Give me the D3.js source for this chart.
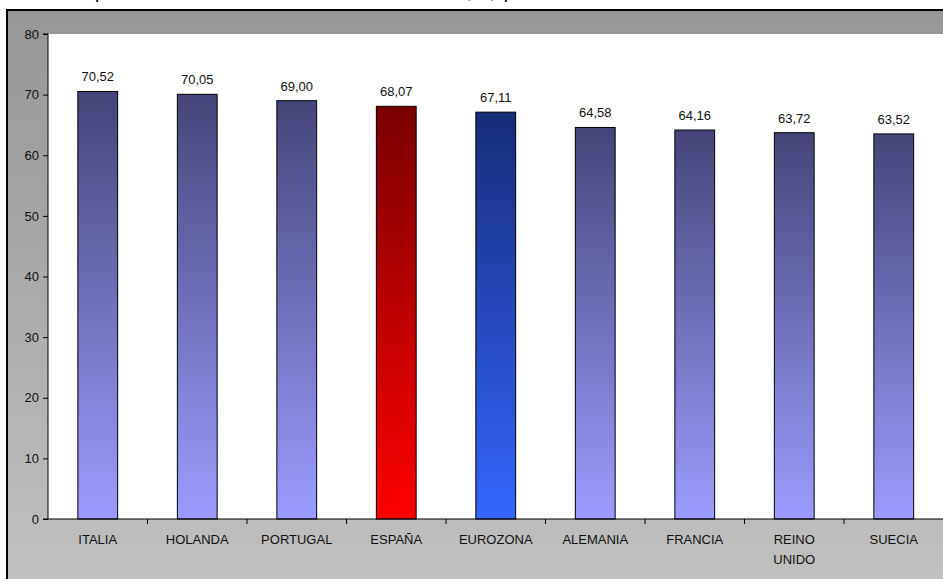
<!DOCTYPE html>
<html>
<head>
<meta charset="utf-8">
<script src="https://cdn.jsdelivr.net/npm/d3@7"></script>
<style>
  body { margin: 0; background: #fff; }
  svg { display: block; font-family: Arial, "Liberation Sans", sans-serif; }
</style>
</head>
<body>
<svg id="chart" width="943" height="579"></svg>
<script>
// datos del grafico
const paises = ['ITALIA', 'HOLANDA', 'PORTUGAL', 'ESPAÑA', 'EUROZONA', 'ALEMANIA', 'FRANCIA', 'REINO UNIDO', 'SUECIA']
const valores = [70.52, 70.05, 69.00, 68.07, 67.11, 64.58, 64.16, 63.72, 63.52]
const yTicks = [0, 10, 20, 30, 40, 50, 60, 70, 80]
const titulo = 'Empleo: tasa de actividad en la Eurozona (%) por sexo'

const W = 943, H = 579
const plot = { left: 48, top: 34, right: 943.5, bottom: 519 }

const svg = d3.select('#chart')
const defs = svg.append('defs')

function grad(id, top, bottom) {
  const g = defs.append('linearGradient').attr('id', id)
    .attr('x1', 0).attr('y1', 0).attr('x2', 0).attr('y2', 1)
  g.append('stop').attr('offset', '0%').attr('stop-color', top)
  g.append('stop').attr('offset', '100%').attr('stop-color', bottom)
}
grad('gArea', '#969696', '#c0c0c0')
grad('gBar', '#45457a', '#9c9cff')
grad('gEsp', '#7a0000', '#ff0000')
grad('gEuro', '#172c78', '#3366ff')

// titulo (el original sale cortado por arriba, solo se ven los trazos bajos)
svg.append('text')
  .attr('x', 64).attr('y', -2)
  .attr('font-family', 'Verdana, "DejaVu Sans", sans-serif')
  .attr('font-size', 19)
  .attr('fill', '#000')
  .text(titulo)

// area del grafico
svg.append('rect')
  .attr('x', 7).attr('y', 10).attr('width', W - 7).attr('height', H - 10)
  .attr('fill', 'url(#gArea)')
svg.append('path')
  .attr('d', `M7,${H}V10H${W}`)
  .attr('fill', 'none').attr('stroke', '#000').attr('stroke-width', 2)

// area de trazado
svg.append('rect')
  .attr('x', plot.left).attr('y', plot.top)
  .attr('width', plot.right - plot.left).attr('height', plot.bottom - plot.top)
  .attr('fill', '#fff')

const x = d3.scaleBand()
  .domain(paises)
  .range([plot.left, plot.right])
  .paddingInner(0.6)
  .paddingOuter(0.3)

const y = d3.scaleLinear()
  .domain([0, 80])
  .range([plot.bottom, plot.top])

const fill = d => d === 'ESPAÑA' ? 'url(#gEsp)' : d === 'EUROZONA' ? 'url(#gEuro)' : 'url(#gBar)'

svg.append('g')
  .selectAll('rect.bar')
  .data(paises)
  .enter()
  .append('rect')
  .classed('bar', true)
  .attr('x', d => x(d))
  .attr('y', (d, i) => y(valores[i]))
  .attr('width', x.bandwidth())
  .attr('height', (d, i) => y(0) - y(valores[i]))
  .attr('fill', fill)
  .attr('stroke', '#000')
  .attr('stroke-width', 1)

// etiquetas de valor
const fmt = v => d3.format('.2f')(v).replace('.', ',')
svg.append('g')
  .selectAll('text')
  .data(paises)
  .enter()
  .append('text')
  .attr('x', d => x(d) + x.bandwidth() / 2)
  .attr('y', (d, i) => y(valores[i]) - 10)
  .attr('text-anchor', 'middle')
  .attr('font-size', 13)
  .attr('fill', '#111')
  .text((d, i) => fmt(valores[i]))

// eje y
const yAxis = svg.append('g')
  .attr('transform', `translate(${plot.left},0)`)
  .call(d3.axisLeft(y).tickValues(yTicks).tickSize(5).tickPadding(4))
yAxis.selectAll('text').attr('font-size', 13).attr('fill', '#111')
yAxis.selectAll('line, path').attr('stroke', '#000')
yAxis.select('.domain').attr('d', `M-5,${plot.top}H0V${plot.bottom}`)

// eje x
const xAxis = svg.append('g')
  .attr('transform', `translate(0,${plot.bottom})`)
const step = x.step()
xAxis.append('line')
  .attr('x1', plot.left - 5).attr('x2', W)
  .attr('stroke', '#000')
xAxis.selectAll('line.tick')
  .data(paises.slice(1))
  .enter()
  .append('line')
  .classed('tick', true)
  .attr('x1', d => x(d) - x.paddingInner() * step / 2)
  .attr('x2', d => x(d) - x.paddingInner() * step / 2)
  .attr('y1', 0).attr('y2', 5)
  .attr('stroke', '#000')

const lbl = xAxis.selectAll('text')
  .data(paises)
  .enter()
  .append('text')
  .attr('x', d => x(d) + x.bandwidth() / 2)
  .attr('y', 25)
  .attr('text-anchor', 'middle')
  .attr('font-size', 13)
  .attr('fill', '#111')
lbl.each(function (d) {
  const words = d === 'REINO UNIDO' ? d.split(' ') : [d]
  d3.select(this).selectAll('tspan')
    .data(words)
    .enter()
    .append('tspan')
    .attr('x', x(d) + x.bandwidth() / 2)
    .attr('dy', (w, i) => i ? 20 : 0)
    .text(w => w)
})
</script>
</body>
</html>
